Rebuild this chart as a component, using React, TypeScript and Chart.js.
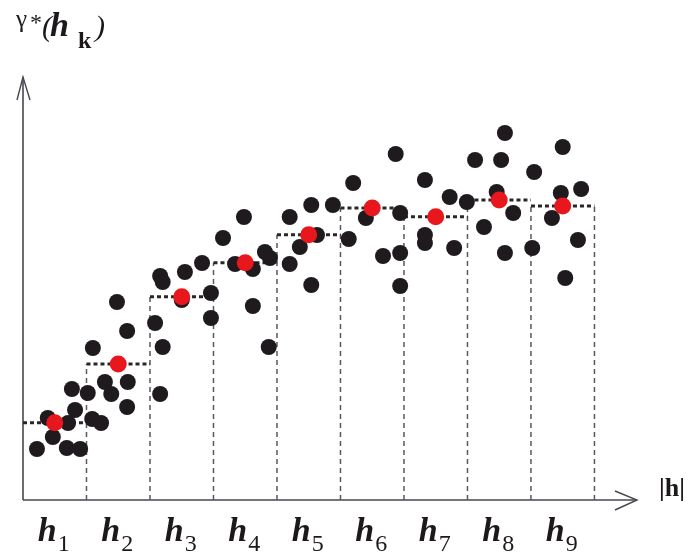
import { useEffect, useRef } from 'react';
import { Chart, registerables } from 'chart.js';

Chart.register(...registerables);

// Lag-class boundaries (in lag units) and the class mean semivariances
const binEdges = [0, 1, 2, 3, 4, 5, 6, 7, 8, 9];
const binLevels = [19.3, 34, 50.8, 59.3, 66.3, 73, 70.8, 75, 73.5];
const binSubscripts = ['1', '2', '3', '4', '5', '6', '7', '8', '9'];

// Variogram cloud (pairs): lag distance and semivariance
const cloudX = [
  0.22, 0.39, 0.47, 0.69, 0.71, 0.77, 0.82, 0.9,
  1.02, 1.09, 1.1, 1.23, 1.29, 1.39, 1.48, 1.64, 1.64, 1.65,
  2.08, 2.16, 2.2, 2.2, 2.16, 2.55, 2.5, 2.82, 2.96, 2.96,
  3.15, 3.34, 3.48, 3.62, 3.62, 3.81, 3.89, 3.87,
  4.2, 4.2, 4.36, 4.54, 4.54, 4.63, 4.88,
  5.13, 5.2, 5.4, 5.67, 5.87, 5.94, 5.94, 5.94,
  6.33, 6.33, 6.33, 6.72, 6.79, 6.99,
  7.12, 7.26, 7.53, 7.59, 7.46, 7.72, 7.59,
  8.02, 8.05, 8.33, 8.47, 8.5, 8.74, 8.79, 8.54,
];
const cloudY = [
  12.75, 20.5, 15.75, 13, 19.25, 27.75, 22.5, 12.75,
  26.75, 20.25, 38, 19.25, 29.5, 26.5, 49.5, 42.25, 23.25, 29.5,
  44.25, 56, 54.5, 38.25, 26.5, 57, 50, 59.25, 51.75, 45.5,
  65.5, 59, 70.75, 57.75, 48.5, 62, 60.5, 38.25,
  70.75, 59, 63.25, 73.75, 53.75, 66.25, 73.75,
  65.25, 79.25, 70.5, 61, 86.5, 71.75, 61.75, 53.5,
  80, 66.25, 64.25, 75.75, 63, 74.5,
  85, 68.25, 85, 91.75, 77, 71.75, 61.75,
  63, 82, 70.5, 76.75, 88.25, 65, 77.75, 55.5,
];

const X_MAX = 9.67;
const Y_MAX = 105.75;

const SERIF = '"Liberation Serif", "Times New Roman", serif';

export default function App() {
  const ref = useRef<HTMLCanvasElement>(null);

  useEffect(() => {
    document.body.style.margin = '0';
    const cloud = cloudX.map((x, i) => ({ x, y: cloudY[i] }));
    const means = binLevels.map((y, i) => ({ x: (binEdges[i] + binEdges[i + 1]) / 2, y }));

    const levelSegs: { x: number; y: number | null }[] = [];
    binLevels.forEach((lv, i) => {
      levelSegs.push({ x: binEdges[i], y: lv });
      levelSegs.push({ x: binEdges[i + 1], y: lv });
      levelSegs.push({ x: binEdges[i + 1], y: null });
    });

    const edgeSegs: { x: number; y: number | null }[] = [];
    for (let k = 1; k < binEdges.length; k++) {
      const lv = k < binLevels.length ? binLevels[k] : binLevels[binLevels.length - 1];
      edgeSegs.push({ x: binEdges[k], y: 0 });
      edgeSegs.push({ x: binEdges[k], y: lv });
      edgeSegs.push({ x: binEdges[k], y: null });
    }

    const decor = {
      id: 'decor',
      beforeDatasetsDraw(chart: any) {
        const ctx = chart.ctx as CanvasRenderingContext2D;
        const xs = chart.scales.x;
        const ys = chart.scales.y;
        const x0 = xs.getPixelForValue(0);
        const y0 = ys.getPixelForValue(0);
        const xEnd = xs.getPixelForValue(X_MAX);
        const yEnd = ys.getPixelForValue(Y_MAX);
        ctx.save();
        ctx.strokeStyle = '#4a4650';
        ctx.lineWidth = 1.6;
        ctx.beginPath();
        ctx.moveTo(x0, y0);
        ctx.lineTo(xEnd, y0);
        ctx.moveTo(x0, y0);
        ctx.lineTo(x0, yEnd);
        ctx.stroke();
        ctx.lineWidth = 1.4;
        ctx.beginPath();
        ctx.moveTo(xEnd - 22, y0 - 9);
        ctx.lineTo(xEnd, y0);
        ctx.lineTo(xEnd - 22, y0 + 10);
        ctx.moveTo(x0 - 6, yEnd + 23);
        ctx.lineTo(x0, yEnd);
        ctx.lineTo(x0 + 7, yEnd + 23);
        ctx.stroke();
        ctx.restore();
      },
      afterDraw(chart: any) {
        const ctx = chart.ctx as CanvasRenderingContext2D;
        const xs = chart.scales.x;
        ctx.save();
        ctx.fillStyle = '#1c181c';
        ctx.textBaseline = 'alphabetic';
        ctx.textAlign = 'left';
        // y-axis title: γ*(h_k)
        ctx.font = `25px ${SERIF}`;
        ctx.fillText('γ', 16, 27);
        ctx.font = `24px ${SERIF}`;
        ctx.fillText('*', 30, 30);
        ctx.font = `italic 30px ${SERIF}`;
        ctx.fillText('(', 42, 36);
        ctx.font = `bold italic 34px ${SERIF}`;
        ctx.fillText('h', 50, 36);
        ctx.font = `bold 24px ${SERIF}`;
        ctx.fillText('k', 78, 48);
        ctx.font = `italic 30px ${SERIF}`;
        ctx.fillText(')', 95, 36);
        // x-axis title |h|
        ctx.font = `bold 26px ${SERIF}`;
        ctx.fillText('|h|', 659, 496);
        // class labels h_k
        binSubscripts.forEach((s, i) => {
          const c = xs.getPixelForValue((binEdges[i] + binEdges[i + 1]) / 2);
          ctx.font = `bold italic 34px ${SERIF}`;
          ctx.fillText('h', c - 17, 541);
          ctx.font = `24px ${SERIF}`;
          ctx.fillText(s, c + 3, 551);
        });
        ctx.restore();
      },
    };

    const chart = new Chart(ref.current!, {
      type: 'scatter',
      data: {
        datasets: [
          {
            label: 'class means',
            data: means,
            backgroundColor: '#e8161d',
            pointRadius: 8.5,
            pointBorderWidth: 0,
            showLine: false,
          } as any,
          {
            label: 'cloud',
            data: cloud,
            backgroundColor: '#1e1a1e',
            pointRadius: 8,
            pointBorderWidth: 0,
            showLine: false,
          } as any,
          {
            label: 'levels',
            data: levelSegs,
            showLine: true,
            spanGaps: false,
            borderColor: '#2a2628',
            borderWidth: 3,
            borderDash: [4, 3],
            pointRadius: 0,
            fill: false,
          } as any,
          {
            label: 'edges',
            data: edgeSegs,
            showLine: true,
            spanGaps: false,
            borderColor: '#5a575f',
            borderWidth: 1.5,
            borderDash: [5, 4],
            pointRadius: 0,
            fill: false,
          } as any,
        ],
      },
      options: {
        responsive: false,
        animation: false,
        layout: { padding: { left: 23, right: 53, top: 77, bottom: 58 } },
        plugins: { legend: { display: false }, tooltip: { enabled: false }, title: { display: false } },
        scales: {
          x: { type: 'linear', min: 0, max: X_MAX, display: false },
          y: { type: 'linear', min: 0, max: Y_MAX, display: false },
        },
      },
      plugins: [decor],
    });
    return () => chart.destroy();
  }, []);

  return (
    <div style={{ width: 690, height: 558, background: '#fff' }}>
      <canvas ref={ref} width={690} height={558} style={{ display: 'block' }} />
    </div>
  );
}
